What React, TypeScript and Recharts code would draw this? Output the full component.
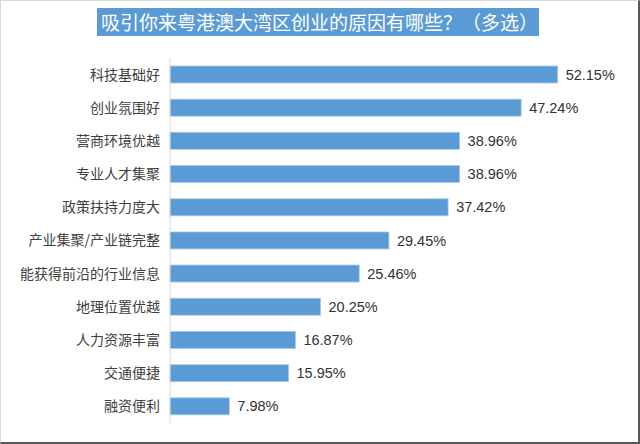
import React from 'react';
import { BarChart, Bar, XAxis, YAxis, LabelList } from 'recharts';

const categories = [
  '科技基础好',
  '创业氛围好',
  '营商环境优越',
  '专业人才集聚',
  '政策扶持力度大',
  '产业集聚/产业链完整',
  '能获得前沿的行业信息',
  '地理位置优越',
  '人力资源丰富',
  '交通便捷',
  '融资便利',
];
const values = [52.15, 47.24, 38.96, 38.96, 37.42, 29.45, 25.46, 20.25, 16.87, 15.95, 7.98];
const title = '吸引你来粤港澳大湾区创业的原因有哪些？（多选）';

const data = categories.map((name, i) => ({ name, value: values[i] }));

const cjk = '"Noto Sans CJK SC", "Noto Sans", sans-serif';

const App: React.FC = () => {
  return (
    <div
      style={{
        position: 'absolute',
        left: 0,
        top: 0,
        width: 640,
        height: 444,
        background: '#fff',
        boxSizing: 'border-box',
        borderTop: '1px solid #d9d9d9',
        borderLeft: '1px solid #d9d9d9',
        borderRight: '2px solid #595959',
        borderBottom: '2px solid #595959',
      }}
    >
      <div
        style={{
          position: 'absolute',
          left: 96,
          top: 7,
          width: 442,
          height: 28,
          background: '#5b9bd5',
          color: '#fff',
          fontFamily: cjk,
          fontSize: 19,
          lineHeight: '28px',
          paddingLeft: 4,
          boxSizing: 'border-box',
          whiteSpace: 'nowrap',
        }}
      >
        {title}
      </div>
      <div style={{ position: 'absolute', left: -1, top: -1 }}>
        <BarChart
          width={640}
          height={444}
          data={data}
          layout="vertical"
          margin={{ top: 58, right: 24, bottom: 21, left: 0 }}
          barSize={17}
        >
          <XAxis type="number" domain={[0, 60]} hide />
          <YAxis
            type="category"
            dataKey="name"
            width={170}
            axisLine={{ stroke: '#d9d9d9' }}
            tickLine={false}
            tickSize={0}
            tickMargin={10}
            interval={0}
            tick={{ fill: '#404040', fontSize: 14, fontFamily: cjk }}
          />
          <Bar dataKey="value" fill="#5b9bd5" stroke="#a9c8ea" strokeWidth={0.8} isAnimationActive={false}>
            <LabelList
              dataKey="value"
              position="right"
              offset={8}
              formatter={(v: number) => `${v.toFixed(2)}%`}
              style={{ fill: '#333333', fontSize: 14.5, fontFamily: '"Liberation Sans", Arial, sans-serif' }}
            />
          </Bar>
        </BarChart>
      </div>
    </div>
  );
};

export default App;
